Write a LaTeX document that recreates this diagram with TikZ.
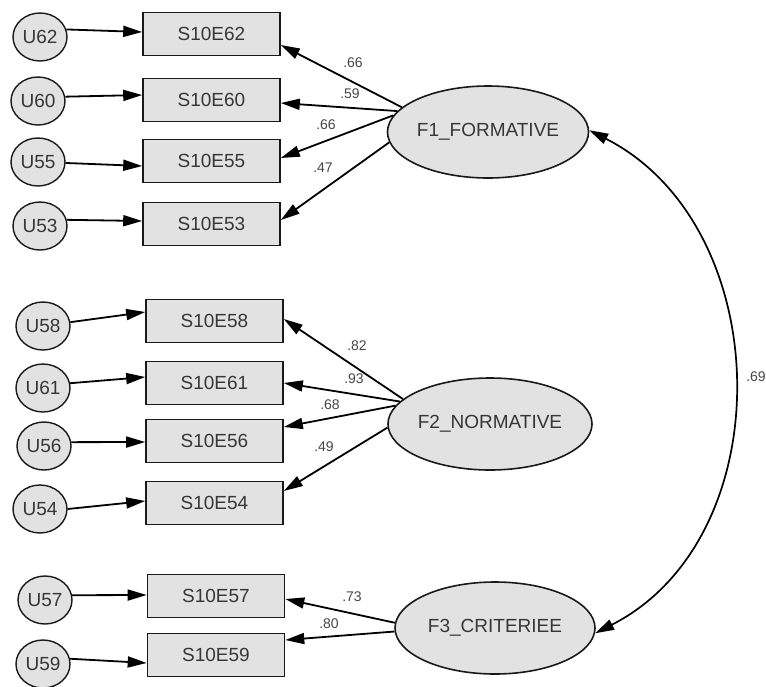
\documentclass[tikz,border=0pt]{standalone}
\usepackage{fontspec}
\setmainfont{Liberation Sans}
\usetikzlibrary{shapes.geometric,arrows.meta}
\definecolor{boxfill}{RGB}{226,226,226}
\definecolor{txt}{RGB}{55,55,55}
\definecolor{lbl}{RGB}{70,70,70}
\tikzset{
  obs/.style={draw=black!90, line width=1.6pt, fill=boxfill, rectangle, minimum width=137pt, minimum height=43pt, inner sep=0pt, text=txt, font=\fontsize{19}{19}\selectfont},
  err/.style={draw=black!90, line width=1.4pt, fill=boxfill, ellipse, minimum width=54pt, minimum height=48pt, inner sep=0pt, text=txt, font=\fontsize{19}{19}\selectfont},
  lat/.style={draw=black!90, line width=1.6pt, fill=boxfill, ellipse, minimum width=200pt, minimum height=92pt, inner sep=0pt, text=txt, font=\fontsize{19}{19}\selectfont},
  arr/.style={line width=1.8pt, -{Triangle[length=19pt,width=11pt]}},
  cov/.style={line width=1.7pt, {Triangle[length=19pt,width=11pt]}-{Triangle[length=19pt,width=11pt]}},
  wt/.style={text=lbl, font=\fontsize{14}{14}\selectfont, inner sep=0pt}
}
\begin{document}
\begin{tikzpicture}[x=1pt,y=-1pt]
\useasboundingbox (0,0) rectangle (766,686);
% latent factors
\node[lat] (F1) at (488,132) {F1\_FORMATIVE};
\node[lat] (F2) at (490,424) {F2\_NORMATIVE};
\node[lat] (F3) at (495,628) {F3\_CRITERIEE};
% observed
\node[obs] (S62) at (211.5,34) {S10E62};
\node[obs] (S60) at (211.5,100) {S10E60};
\node[obs] (S55) at (211.5,161) {S10E55};
\node[obs] (S53) at (211.5,224) {S10E53};
\node[obs] (S58) at (214.5,321) {S10E58};
\node[obs] (S61) at (214.5,383) {S10E61};
\node[obs] (S56) at (214.5,441) {S10E56};
\node[obs] (S54) at (214.5,503) {S10E54};
\node[obs] (S57) at (216,596) {S10E57};
\node[obs] (S59) at (216,655) {S10E59};
% errors
\node[err] (U62) at (40,37) {U62};
\node[err] (U60) at (38,101) {U60};
\node[err] (U55) at (38,162) {U55};
\node[err] (U53) at (40,226) {U53};
\node[err] (U58) at (43,326) {U58};
\node[err] (U61) at (43,388) {U61};
\node[err] (U56) at (44,446) {U56};
\node[err] (U54) at (40,509) {U54};
\node[err] (U57) at (45,600) {U57};
\node[err] (U59) at (43,664) {U59};
% error arrows
\draw[arr] (U62.16) -- ([yshift=2pt]S62.west);
\draw[arr] (U60.9) -- ([yshift=5pt]S60.west);
\draw[arr] (U55.-2) -- ([yshift=-5pt]S55.west);
\draw[arr] (U53.13) -- ([yshift=3pt]S53.west);
\draw[arr] (U58.8) -- ([yshift=9pt]S58.west);
\draw[arr] (U61.10) -- ([yshift=6pt]S61.west);
\draw[arr] (U56.8) -- ([yshift=-1pt]S56.west);
\draw[arr] (U54.0) -- ([yshift=2pt]S54.west);
\draw[arr] (U57.10) -- ([yshift=1pt]S57.west);
\draw[arr] (U59.11) -- ([yshift=-8pt]S59.west);
% loadings
\draw[arr] (F1.164) -- ([yshift=-11pt]S62.east);
\draw[arr] (F1.167) -- ([yshift=-3pt]S60.east);
\draw[arr] (F1.170) -- ([yshift=3pt]S55.east);
\draw[arr] (F1.186) -- ([yshift=4pt]S53.east);
\draw[arr] (F2.164) -- ([yshift=2pt]S58.east);
\draw[arr] (F2.166) -- (S61.east);
\draw[arr] (F2.169) -- ([yshift=14pt]S56.east);
\draw[arr] (F2.182) -- ([yshift=12pt]S54.east);
\draw[arr] (F3.177) -- ([yshift=-3pt]S57.east);
\draw[arr] (F3.182) -- ([yshift=15pt]S59.east);
% covariance
\draw[cov] (F1.1) to[out=-27, in=27, looseness=1.07] (F3.-3);
% labels
\node[wt] (l1) at (353,63) {.66};
\node[wt] (l2) at (350,94) {.59};
\node[wt] (l3) at (326,125) {.66};
\node[wt] (l4) at (323,168) {.47};
\node[wt] (l5) at (357,346) {.82};
\node[wt] (l6) at (354,379) {.93};
\node[wt] (l7) at (330,405) {.68};
\node[wt] (l8) at (324,447) {.49};
\node[wt] (l9) at (352,597) {.73};
\node[wt] (l10) at (329,624) {.80};
\node[wt] (l11) at (756,377) {.69};
\end{tikzpicture}
\end{document}
